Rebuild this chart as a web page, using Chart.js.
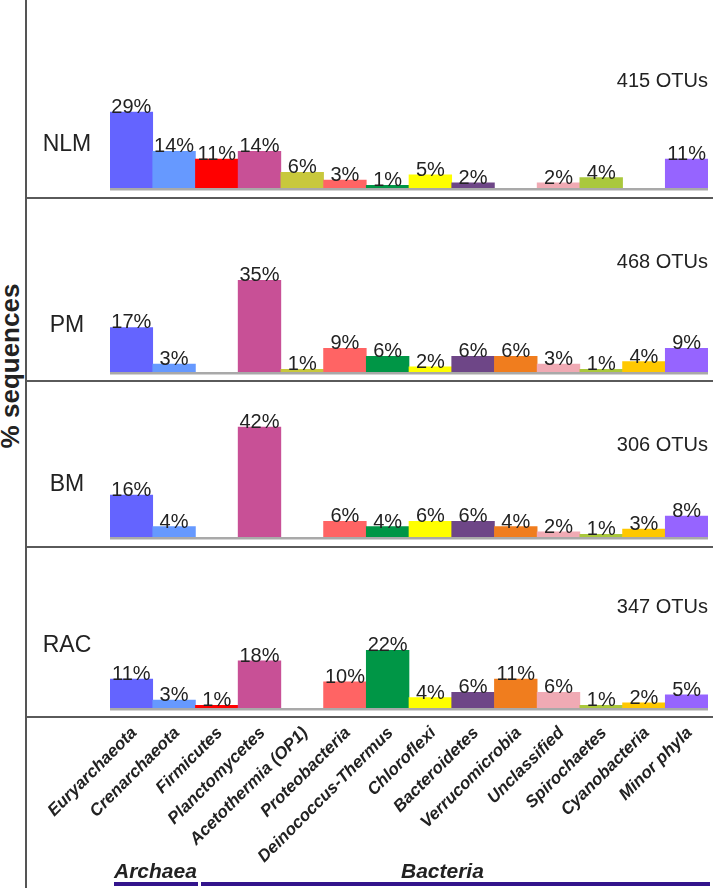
<!DOCTYPE html>
<html><head><meta charset="utf-8">
<script src="https://cdn.jsdelivr.net/npm/chart.js@4.4.0/dist/chart.umd.min.js"></script>
<style>
html,body{margin:0;padding:0;background:#fff;}
body{width:713px;height:888px;position:relative;overflow:hidden;font-family:"Liberation Sans",Arial,sans-serif;color:#222;}
canvas{position:absolute;left:0;}
.vline{position:absolute;left:25px;top:0;width:1.5px;height:888px;background:#555;}
.sep{position:absolute;left:27px;width:686px;height:1.5px;background:#5a5a5a;z-index:2;}
.panel{position:absolute;left:27px;width:80px;text-align:center;font-size:23px;line-height:23px;white-space:nowrap;}
.otu{position:absolute;right:5px;font-size:20px;line-height:20px;white-space:nowrap;}
.ylab{position:absolute;left:-90.5px;top:351px;width:200px;height:30px;line-height:30px;text-align:center;font-weight:bold;font-size:26px;transform:rotate(-90deg);white-space:nowrap;}
.dom{position:absolute;font-weight:bold;font-style:italic;font-size:21px;line-height:21px;white-space:nowrap;}
.domline{position:absolute;height:4px;background:#33148c;}
</style>
</head>
<body>
<div class="vline"></div>
<div class="ylab">% sequences</div>
<canvas id="c0" width="713" height="192" style="top:0px"></canvas>
<canvas id="c1" width="713" height="177" style="top:199px"></canvas>
<canvas id="c2" width="713" height="159" style="top:382px"></canvas>
<canvas id="c3" width="713" height="320" style="top:548px"></canvas>
<div class="sep" style="top:197px"></div>
<div class="sep" style="top:380px"></div>
<div class="sep" style="top:546px"></div>
<div class="sep" style="top:716px"></div>
<div class="panel" id="p0" style="top:132px"></div>
<div class="panel" id="p1" style="top:313px"></div>
<div class="panel" id="p2" style="top:472px"></div>
<div class="panel" id="p3" style="top:633px"></div>
<div class="otu" id="o0" style="top:70px"></div>
<div class="otu" id="o1" style="top:251px"></div>
<div class="otu" id="o2" style="top:434px"></div>
<div class="otu" id="o3" style="top:596px"></div>
<div class="dom" id="d0" style="left:114px;top:860px"></div>
<div class="dom" id="d1" style="left:401px;top:860px"></div>
<div class="domline" style="left:114px;width:84px;top:882px"></div>
<div class="domline" style="left:201px;width:509px;top:882px"></div>
<script>
const categories = ['Euryarchaeota','Crenarchaeota','Firmicutes','Planctomycetes','Acetothermia (OP1)','Proteobacteria','Deinococcus-Thermus','Chloroflexi','Bacteroidetes','Verrucomicrobia','Unclassified','Spirochaetes','Cyanobacteria','Minor phyla'];
const nlmValues = [29,14,11,14,6,3,1,5,2,0,2,4,0,11];
const pmValues  = [17,3,0,35,1,9,6,2,6,6,3,1,4,9];
const bmValues  = [16,4,0,42,0,6,4,6,6,4,2,1,3,8];
const racValues = [11,3,1,18,0,10,22,4,6,11,6,1,2,5];
const panelNames = ['NLM','PM','BM','RAC'];
const otuCounts = [415,468,306,347];
const domains = ['Archaea','Bacteria'];

const phylumColors = ['#6464ff','#6699ff','#ff0000','#c85096','#c8c83c','#ff6464','#009646','#ffff00','#6e4687','#f07d1e','#f0aab4','#aac83c','#ffc800','#9664ff'];
const PX_PER_PCT = 2.62;
const FONT = '"Liberation Sans", Arial, sans-serif';

const baseLine = {
  id:'baseLine',
  afterDatasetsDraw(chart){
    const {ctx, chartArea:a} = chart;
    ctx.save(); ctx.strokeStyle='#a9a9a9'; ctx.lineWidth=2.6;
    ctx.beginPath(); ctx.moveTo(a.left, a.bottom+1.3); ctx.lineTo(a.right, a.bottom+1.3); ctx.stroke();
    ctx.restore();
  }
};
const valueLabels = {
  id:'valueLabels',
  afterDatasetsDraw(chart){
    const ctx = chart.ctx, meta = chart.getDatasetMeta(0), data = chart.data.datasets[0].data;
    ctx.save(); ctx.font = '20px ' + FONT; ctx.fillStyle = '#222';
    ctx.textAlign = 'center'; ctx.textBaseline = 'alphabetic';
    meta.data.forEach((bar,i)=>{ if (!data[i]) return; ctx.fillText(data[i] + '%', bar.x, bar.y + 1); });
    ctx.restore();
  }
};

function makeChart(id, values, areaH, withAxis){
  new Chart(document.getElementById(id), {
    type:'bar',
    data:{labels:categories, datasets:[{data:values.map(v => v || null), backgroundColor:phylumColors, borderWidth:0, categoryPercentage:1, barPercentage:1}]},
    options:{
      responsive:false, animation:false, devicePixelRatio:1,
      layout:{padding:{left:110, right:5, top:0, bottom:withAxis ? 0 : 4}},
      plugins:{legend:{display:false}, tooltip:{enabled:false}},
      scales:{
        y:{display:false, min:0, max:areaH/PX_PER_PCT},
        x:withAxis ? {
          display:true,
          grid:{display:false, drawTicks:false}, border:{display:false},
          ticks:{autoSkip:false, maxRotation:45, minRotation:45, labelOffset:3, padding:15, color:'#222',
                 font:{family:FONT, size:17, weight:'bold', style:'italic'}},
          afterFit(s){ s.height = 160; s.paddingLeft = 0; s.paddingRight = 0; }
        } : {display:false}
      }
    },
    plugins:[baseLine, valueLabels]
  });
}
makeChart('c0', nlmValues, 188, false);
makeChart('c1', pmValues, 173, false);
makeChart('c2', bmValues, 155, false);
makeChart('c3', racValues, 160, true);

panelNames.forEach((n,i)=>{ document.getElementById('p'+i).textContent = n; });
otuCounts.forEach((n,i)=>{ document.getElementById('o'+i).textContent = n + ' OTUs'; });
domains.forEach((n,i)=>{ document.getElementById('d'+i).textContent = n; });
</script>
</body></html>
